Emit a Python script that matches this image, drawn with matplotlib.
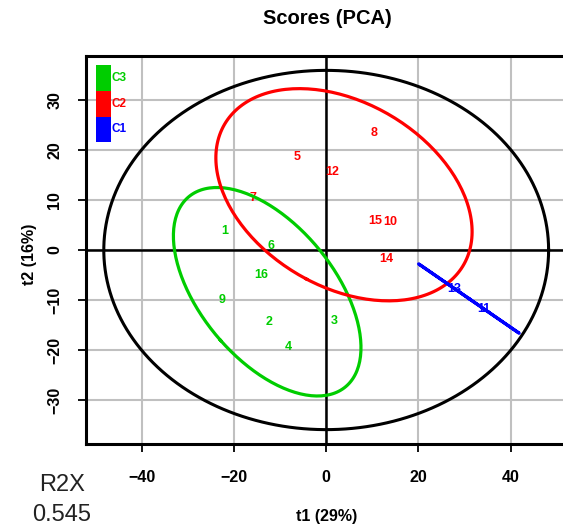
import numpy as np
import matplotlib
matplotlib.use("Agg")
import matplotlib.pyplot as plt
from matplotlib.patches import Rectangle

# ---- data ----
obs_labels = ['1', '2', '3', '4', '5', '6', '7', '8', '9', '10', '11', '12', '13', '14', '15', '16']
obs_group = ['C3', 'C3', 'C3', 'C3', 'C2', 'C3', 'C2', 'C2', 'C3', 'C2', 'C1', 'C2', 'C1', 'C2', 'C2', 'C3']
t1 = [-22.0, -12.5, 1.8, -8.3, -6.4, -12.0, -15.8, 10.3, -22.5, 14.0, 34.1, 1.2, 27.8, 13.0, 10.7, -14.1]
t2 = [3.7, -14.4, -14.1, -19.4, 18.6, 0.8, 10.3, 23.3, -10.0, 5.5, -11.7, 15.6, -7.7, -1.7, 5.7, -5.0]
group_names = ['C3', 'C2', 'C1']
group_colors = ['#00CD00', '#FF0000', '#0000FF']
x_ticks = [-40, -20, 0, 20, 40]
y_ticks = [-30, -20, -10, 0, 10, 20, 30]
title = 'Scores (PCA)'
x_label = 't1 (29%)'
y_label = 't2 (16%)'
r2x_label = 'R2X'
r2x_value = '0.545'

plt.rcParams['font.family'] = ['Liberation Sans', 'DejaVu Sans']

t1a = np.array(t1)
t2a = np.array(t2)
grp = np.array(obs_group)
n = len(t1a)

# Hotelling T2 ellipse (95%)
p = 0.95
d2 = n - 2
qf = d2 / 2.0 * ((1 - p) ** (-2.0 / d2) - 1)
hot = (n - 1) * 2 * (n ** 2 - 1) / (n ** 2 * (n - 2)) * qf
ax_a = np.sqrt(np.var(t1a, ddof=1) * hot)
ax_b = np.sqrt(np.var(t2a, ddof=1) * hot)
xlim = (-1.08 * ax_a, 1.08 * ax_a)
ylim = (-1.08 * ax_b, 1.08 * ax_b)

W, H = 563, 526
fig = plt.figure(figsize=(W / 100, H / 100), dpi=100)
left_px, top_px, bot_px = 86, 56, 444
xscale = 4.61
width_px = (xlim[1] - xlim[0]) * xscale
ax = fig.add_axes([left_px / W, 1 - bot_px / H, width_px / W, (bot_px - top_px) / H])
ax.set_xlim(xlim)
ax.set_ylim(ylim)

# grid
for xv in x_ticks:
    ax.axvline(xv, color='#C0C0C0', lw=1.5, zorder=1)
for yv in y_ticks:
    ax.axhline(yv, color='#C0C0C0', lw=1.5, zorder=1)
ax.axvline(0, color='black', lw=1.8, zorder=2)
ax.axhline(0, color='black', lw=1.8, zorder=2)

theta = np.linspace(0, 2 * np.pi, 200)
ax.plot(ax_a * np.cos(theta), ax_b * np.sin(theta), color='black', lw=2.2, zorder=3)

# group ellipses (95% chi-square)
kq = np.sqrt(-2 * np.log(1 - p))
for gname, gcol in zip(group_names, group_colors):
    m = grp == gname
    pts = np.column_stack([t1a[m], t2a[m]])
    mu = pts.mean(axis=0)
    cov = np.cov(pts.T)
    vals, vecs = np.linalg.eigh(cov)
    vals = np.clip(vals, 0, None)
    circ = np.vstack([np.cos(theta), np.sin(theta)])
    ell = (vecs @ np.diag(np.sqrt(vals) * kq) @ circ).T + mu
    ax.plot(ell[:, 0], ell[:, 1], color=gcol, lw=2.3, zorder=4)

# point labels
cmap = dict(zip(group_names, group_colors))
for lab, x, y, g in zip(obs_labels, t1a, t2a, grp):
    ax.text(x, y, lab, color=cmap[g], fontsize=9, fontweight='bold', ha='center', va='center', zorder=3.5)

# legend
axh = bot_px - top_px
rect_edges_px = [65, 91, 116.7, 142]
for i, (gname, gcol) in enumerate(zip(group_names, group_colors)):
    y0 = (bot_px - rect_edges_px[i + 1]) / axh
    y1 = (bot_px - rect_edges_px[i]) / axh
    x0 = (96 - left_px) / width_px
    x1 = (110.7 - left_px) / width_px
    ax.add_patch(Rectangle((x0, y0), x1 - x0, y1 - y0, transform=ax.transAxes,
                           facecolor=gcol, edgecolor='none', zorder=6))
    ax.text((111.0 - left_px) / width_px, (y0 + y1) / 2, gname, transform=ax.transAxes,
            color=gcol, fontsize=8.5, fontweight='bold', ha='left', va='center', zorder=6)

ax.set_xticks(x_ticks)
ax.set_yticks(y_ticks)
ax.set_xticklabels([str(v).replace('-', '\u2212') for v in x_ticks], fontsize=11.5, fontweight='bold')
ax.set_yticklabels([str(v).replace('-', '\u2212') for v in y_ticks], fontsize=11.5, fontweight='bold',
                   rotation=90, va='center')
ax.tick_params(axis='both', direction='out', length=6, width=1.3, color='black')
ax.tick_params(axis='x', pad=13)
ax.tick_params(axis='y', pad=11)
for sp in ax.spines.values():
    sp.set_linewidth(2.2)
    sp.set_color('black')

fig.text(327 / W, 1 - 18 / H, title, fontsize=14.5, fontweight='bold', ha='center', va='center')
fig.text(327 / W, 1 - 517 / H, x_label, fontsize=11.5, fontweight='bold', ha='center', va='center')
fig.text(30 / W, 1 - 254 / H, y_label, fontsize=11.5, fontweight='bold', ha='center', va='center', rotation=90)
fig.text(62 / W, 1 - 485 / H, r2x_label, fontsize=17, ha='center', va='center', color='#222222')
fig.text(62 / W, 1 - 515 / H, r2x_value, fontsize=17, ha='center', va='center', color='#222222')

fig.savefig('out.png', dpi=100)
